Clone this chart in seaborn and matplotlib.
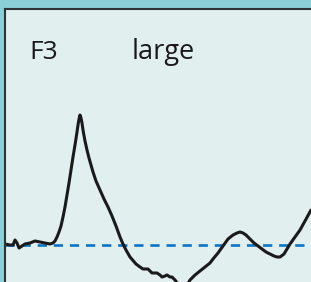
import numpy as np
import pandas as pd
import matplotlib
matplotlib.use("Agg")
import matplotlib.pyplot as plt
import seaborn as sns

# ==========================================
# DATA (trace)
# ==========================================

time = [5, 10, 13, 15, 17, 19, 22, 25, 30, 35, 40, 45, 50, 53, 55, 57, 59, 61,
        63, 65, 67, 69, 71, 73, 75, 77, 78, 79, 80, 81, 82, 83, 85, 87, 89, 91,
        93, 96, 100, 104, 108, 112, 116, 120, 123, 126, 130, 136, 140, 143, 146,
        148, 150, 152, 155, 157, 160, 162, 165, 167, 170, 172, 175, 178, 182, 186,
        190, 195, 200, 205, 210, 213, 218, 223, 228, 233, 237, 240, 243, 246, 250,
        254, 258, 262, 266, 270, 274, 277, 280, 284, 287, 290, 295, 300, 305, 311]
signal = [1, 0, 0, 5, 2, -3, -1, 1, 2, 4, 3, 2, 1, 2, 4, 8, 13, 19,
          28, 38, 50, 62, 75, 88, 100, 113, 120, 126, 130, 127, 122, 115, 104, 95, 87, 80,
          73, 64, 55, 46, 38, 29, 19, 8, 1, -5, -12, -19, -22, -24, -24,
          -24, -26, -28, -28, -28, -30, -32, -31, -30, -32, -32, -35, -39, -43, -42,
          -35, -30, -26, -22, -18, -14, -8, -1, 6, 10, 12, 13, 12, 10, 6,
          2, -1, -4, -7, -9, -11, -12, -12, -9, -4, 1, 8, 15, 24, 35]
baseline = 0

df = pd.DataFrame({"time": time, "signal": signal})

# ==========================================
# PLOT
# ==========================================

fig = plt.figure(figsize=(3.11, 2.82), dpi=100, facecolor="#8ad0d6")
# panel runs off the right and bottom edges of the image
ax = fig.add_axes([5 / 311, -10 / 282, 320 / 311, 283 / 282])
ax.set_facecolor("#e1efef")

ax.axhline(baseline, color="#0b74c4", linewidth=1.9, dashes=(3.5, 2.6), zorder=1)

sns.lineplot(data=df, x="time", y="signal", ax=ax, color="#1a1a1a",
             linewidth=2.2, zorder=2, solid_joinstyle="round",
             solid_capstyle="round")

# 1 unit = 1 px
ax.set_xlim(5, 325)
ax.set_ylim(-47, 236)

for side in ["right", "bottom"]:
    ax.spines[side].set_visible(False)
for side in ["top", "left"]:
    ax.spines[side].set_color("#2e3436")
    ax.spines[side].set_linewidth(1.5)

ax.set_xticks([])
ax.set_yticks([])
ax.set_xlabel("")
ax.set_ylabel("")

ax.text(0.094, 0.791, "F3", transform=fig.transFigure, fontsize=19,
        family="Open Sans", color="#1a1a1a", va="baseline")
ax.text(0.422, 0.791, "large", transform=fig.transFigure, fontsize=19.5,
        family="Open Sans", color="#1a1a1a", va="baseline")

fig.savefig("out.png", dpi=100, facecolor=fig.get_facecolor())
